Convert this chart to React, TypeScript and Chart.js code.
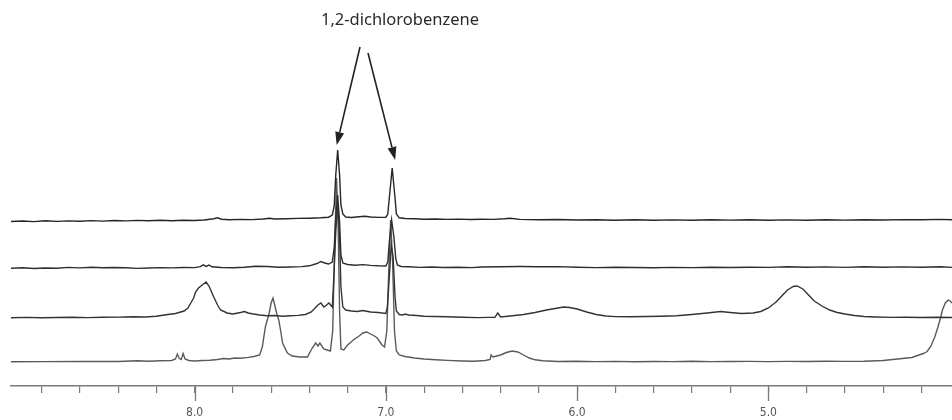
import React, { useEffect, useRef } from "react";
import { Chart, registerables } from "chart.js";

Chart.register(...registerables);

// ---- data (ppm, intensity above each trace's own baseline) ----
const TITLE = "1,2-dichlorobenzene";
const TICK_VALUES = [8.8, 8.6, 8.4, 8.2, 8.0, 7.8, 7.6, 7.4, 7.2, 7.0, 6.8, 6.6, 6.4, 6.2, 6.0, 5.8, 5.6, 5.4, 5.2, 5.0, 4.8, 4.6, 4.4, 4.2];
const MAJOR_TICKS = [8.0, 7.0, 6.0, 5.0];
const PPM_RANGE = [4.04, 8.96];
const ARROW_PEAKS = [7.252, 6.967];
const TRACE_BASELINES = [166, 119, 69, 25];

const TRACE_1: [number, number][] = [
  [8.96, -1.5], [8.9, -1], [8.84, -1.6], [8.78, -0.8], [8.72, -1.4], [8.66, -0.9], [8.6, -1.3], [8.54, -0.6],
  [8.48, -1.1], [8.42, -0.5], [8.36, -0.9], [8.3, -0.4], [8.24, -0.8], [8.18, -0.3], [8.12, -0.7], [8.06, -0.2],
  [8.0, -0.5], [7.95, 0], [7.9, 1.2], [7.88, 2.2], [7.86, 0.8], [7.82, 0.3], [7.76, 0.6], [7.7, 0.4],
  [7.64, 1.0], [7.61, 1.8], [7.58, 1.0], [7.52, 1.3], [7.46, 1.6], [7.4, 1.8], [7.34, 2.2], [7.3, 2.8],
  [7.28, 5], [7.27, 14], [7.262, 45], [7.252, 70], [7.242, 45], [7.235, 15], [7.225, 6], [7.21, 3],
  [7.18, 2.5], [7.14, 3.2], [7.11, 3.8], [7.08, 3.0], [7.04, 2.6], [7.0, 2.8], [6.99, 6], [6.982, 22],
  [6.967, 52], [6.952, 22], [6.945, 6], [6.93, 2.2], [6.9, 1.5], [6.85, 1.2], [6.8, 0.8], [6.74, 1],
  [6.68, 0.6], [6.62, 0.9], [6.56, 0.5], [6.5, 0.8], [6.44, 0.6], [6.38, 1.3], [6.35, 1.8], [6.3, 0.6],
  [6.2, 0.2], [6.1, 0.5], [6.0, 0], [5.9, 0.3], [5.8, -0.2], [5.7, 0.2], [5.6, -0.3], [5.5, 0.1],
  [5.4, -0.2], [5.3, 0.3], [5.2, -0.1], [5.1, 0.2], [5.0, -0.2], [4.9, 0.1], [4.8, -0.2], [4.7, 0.2],
  [4.6, -0.1], [4.5, 0.3], [4.4, 0], [4.3, 0.4], [4.2, 0.2], [4.1, 0.6], [4.04, 0.3],
];

const TRACE_2: [number, number][] = [
  [8.96, -1.3], [8.9, -0.8], [8.84, -1.5], [8.78, -1], [8.72, -1.2], [8.66, -0.4], [8.6, -0.9], [8.54, -0.3],
  [8.48, -0.8], [8.42, -0.5], [8.36, -0.7], [8.3, -1.4], [8.24, -1.0], [8.18, -0.6], [8.12, -0.9], [8.06, -0.5],
  [8.0, -0.6], [7.97, 0.3], [7.955, 2.2], [7.94, 0.6], [7.925, 2.0], [7.91, 0.2], [7.86, -0.5], [7.8, -0.8],
  [7.74, -0.2], [7.68, 0.8], [7.62, 0.5], [7.56, -0.2], [7.5, 0], [7.44, 0.4], [7.4, 1.2], [7.36, 3.5],
  [7.34, 5.5], [7.32, 4], [7.3, 3], [7.28, 5], [7.27, 20], [7.262, 50], [7.252, 72], [7.242, 45],
  [7.235, 12], [7.225, 4], [7.2, 2.5], [7.16, 1.8], [7.12, 2.4], [7.08, 1.6], [7.04, 1.2], [7.0, 1.0],
  [6.99, 5], [6.982, 25], [6.97, 47], [6.958, 30], [6.948, 8], [6.94, 2], [6.92, 0.5], [6.88, 0.2],
  [6.82, -0.4], [6.76, 0], [6.7, -0.5], [6.62, -0.2], [6.55, -0.6], [6.5, 0], [6.4, 0.3], [6.3, 0.5],
  [6.2, 0.3], [6.1, 0.4], [6.0, -0.2], [5.9, -0.6], [5.8, -0.3], [5.7, -0.5], [5.6, -0.8], [5.5, -0.4],
  [5.4, -0.6], [5.3, -0.3], [5.2, -0.5], [5.1, -0.2], [5.0, -0.4], [4.9, 0.2], [4.8, -0.3], [4.7, 0.1],
  [4.6, -0.4], [4.5, 0.2], [4.4, -0.2], [4.3, 0.1], [4.2, -0.3], [4.1, 0.2], [4.04, -0.4],
];

const TRACE_3: [number, number][] = [
  [8.96, -0.7], [8.88, -0.4], [8.8, -0.8], [8.72, -0.5], [8.64, -0.3], [8.56, -0.6], [8.48, -0.2], [8.4, -0.1],
  [8.32, 0.2], [8.26, 0], [8.2, 0.8], [8.14, 2.5], [8.1, 3.5], [8.055, 6], [8.035, 9], [8.02, 14],
  [8.005, 19], [7.995, 25], [7.98, 29], [7.96, 32], [7.94, 35], [7.925, 31], [7.9, 20], [7.88, 12],
  [7.864, 7], [7.83, 4], [7.8, 3], [7.76, 4.5], [7.74, 5.5], [7.72, 4], [7.7, 3.2], [7.66, 2],
  [7.62, 1.2], [7.58, 1.5], [7.54, 0.8], [7.5, 1.2], [7.46, 1.6], [7.42, 2.5], [7.39, 5], [7.37, 9],
  [7.355, 12], [7.34, 14], [7.324, 10], [7.31, 12], [7.298, 14], [7.28, 10], [7.272, 40], [7.262, 85],
  [7.252, 114], [7.242, 80], [7.235, 30], [7.225, 10], [7.21, 7], [7.18, 6], [7.15, 5.5], [7.12, 6.5],
  [7.08, 5], [7.04, 4.5], [7.0, 3.5], [6.992, 10], [6.982, 40], [6.972, 72], [6.962, 60], [6.952, 20],
  [6.945, 6], [6.93, 2.5], [6.91, 2], [6.9, 3], [6.88, 2], [6.84, 1.5], [6.8, 0.8], [6.74, 0.5],
  [6.68, 0.2], [6.6, -0.3], [6.52, -0.6], [6.46, -0.4], [6.43, -0.3], [6.415, 4], [6.4, 0], [6.35, 1],
  [6.28, 2.5], [6.22, 4.5], [6.16, 7], [6.1, 9], [6.07, 10], [6.04, 9.5], [6.0, 8], [5.95, 5],
  [5.9, 2.5], [5.85, 1], [5.8, 0.4], [5.72, 0.3], [5.64, 0.5], [5.56, 0.8], [5.48, 1.2], [5.4, 2.5],
  [5.32, 4], [5.25, 5.5], [5.2, 4.5], [5.14, 3.5], [5.08, 4], [5.04, 5.5], [5.0, 9], [4.96, 15],
  [4.93, 21], [4.9, 27], [4.87, 30.5], [4.85, 31], [4.82, 28], [4.79, 22], [4.76, 16], [4.72, 11],
  [4.68, 7], [4.64, 4.5], [4.6, 3], [4.55, 1.5], [4.5, 0.5], [4.44, 0], [4.36, -0.4], [4.28, -0.2],
  [4.2, -0.5], [4.12, -0.3], [4.04, -0.5],
];

const TRACE_4: [number, number][] = [
  [8.96, -0.7], [8.8, -0.6], [8.6, -0.5], [8.4, -0.5], [8.3, 0.3], [8.24, -0.2], [8.18, 0.2], [8.12, 0.5],
  [8.1, 2], [8.09, 7], [8.08, 2.5], [8.07, 1.5], [8.06, 7.5], [8.05, 2], [8.03, 0.5], [8.0, 0],
  [7.96, 0.5], [7.92, 0.8], [7.88, 1.5], [7.85, 2.5], [7.82, 2], [7.79, 3], [7.76, 2.8], [7.72, 3.6],
  [7.69, 4.5], [7.66, 6], [7.646, 14], [7.63, 34], [7.61, 48], [7.6, 58], [7.59, 63], [7.58, 55],
  [7.57, 47], [7.56, 41], [7.55, 30], [7.54, 18], [7.515, 8], [7.49, 5], [7.45, 4], [7.41, 4],
  [7.385, 13], [7.367, 18], [7.355, 15], [7.345, 18], [7.325, 12], [7.306, 11], [7.29, 10], [7.278, 30],
  [7.268, 110], [7.258, 183], [7.25, 140], [7.242, 50], [7.235, 12], [7.22, 11], [7.2, 16], [7.17, 21],
  [7.14, 25], [7.12, 28], [7.1, 29], [7.08, 27], [7.06, 25], [7.045, 23], [7.02, 16], [7.007, 14],
  [6.995, 30], [6.985, 90], [6.975, 141], [6.965, 100], [6.955, 30], [6.945, 10], [6.93, 6], [6.9, 4.5],
  [6.85, 3], [6.8, 2], [6.74, 1.2], [6.68, 0.6], [6.6, 0], [6.54, -0.3], [6.48, 0.5], [6.455, 1.5],
  [6.45, 6], [6.44, 4], [6.43, 4.5], [6.4, 6], [6.37, 8.5], [6.34, 10], [6.31, 9], [6.28, 6],
  [6.25, 3], [6.22, 1.2], [6.18, 0.2], [6.1, -0.5], [6.0, -0.3], [5.9, -0.6], [5.8, -0.4], [5.7, -0.7],
  [5.6, -0.5], [5.5, -0.6], [5.4, -0.3], [5.3, -0.6], [5.2, -0.5], [5.1, -0.4], [5.0, -0.6], [4.9, -0.4],
  [4.8, -0.5], [4.7, -0.3], [4.6, -0.4], [4.5, -0.2], [4.4, 0.5], [4.35, 1.5], [4.3, 2.5], [4.25, 3.5],
  [4.22, 5.5], [4.19, 7.5], [4.17, 9.5], [4.15, 15], [4.13, 24], [4.115, 33], [4.1, 43], [4.09, 51],
  [4.075, 58], [4.06, 61], [4.05, 60], [4.04, 58],
];

const TRACES = [TRACE_1, TRACE_2, TRACE_3, TRACE_4];
const TRACE_COLORS = ["#262626", "#2e2e2e", "#333333", "#5a5a5a"];

const AXIS_COLOR = "#7a7a7a";

const overlayPlugin = {
  id: "overlay",
  afterDraw(chart: any) {
    const ctx = chart.ctx as CanvasRenderingContext2D;
    const xs = chart.scales.x;
    const ys = chart.scales.y;
    ctx.save();
    // major ticks (longer)
    ctx.strokeStyle = AXIS_COLOR;
    ctx.lineWidth = 1.3;
    const axisY = xs.top;
    MAJOR_TICKS.forEach((v) => {
      const px = Math.round(xs.getPixelForValue(v)) + 0.5;
      ctx.beginPath();
      ctx.moveTo(px, axisY);
      ctx.lineTo(px, axisY + 15);
      ctx.stroke();
    });
    // title
    ctx.fillStyle = "#2a2a2a";
    ctx.font = '16.5px "Noto Sans", "Open Sans", sans-serif';
    ctx.textAlign = "center";
    ctx.textBaseline = "alphabetic";
    ctx.fillText(TITLE, 400, 25);
    // arrows
    const tails = [
      [360, 47],
      [368, 53],
    ];
    const tips = [
      [xs.getPixelForValue(ARROW_PEAKS[0]) - 1, ys.getPixelForValue(TRACE_BASELINES[0] + 70) - 5],
      [xs.getPixelForValue(ARROW_PEAKS[1]) + 3, ys.getPixelForValue(TRACE_BASELINES[0] + 52) - 8],
    ];
    ctx.strokeStyle = "#222";
    ctx.fillStyle = "#222";
    ctx.lineWidth = 1.6;
    for (let i = 0; i < 2; i++) {
      const [x0, y0] = tails[i];
      const [x1, y1] = tips[i];
      const ang = Math.atan2(y1 - y0, x1 - x0);
      const headLen = 13;
      const headW = 4.5;
      const bx = x1 - headLen * Math.cos(ang);
      const by = y1 - headLen * Math.sin(ang);
      ctx.beginPath();
      ctx.moveTo(x0, y0);
      ctx.lineTo(bx, by);
      ctx.stroke();
      ctx.beginPath();
      ctx.moveTo(x1, y1);
      ctx.lineTo(bx + headW * Math.sin(ang), by - headW * Math.cos(ang));
      ctx.lineTo(bx - headW * Math.sin(ang), by + headW * Math.cos(ang));
      ctx.closePath();
      ctx.fill();
    }
    ctx.restore();
  },
};

export default function App() {
  const ref = useRef<HTMLCanvasElement | null>(null);
  useEffect(() => {
    document.body.style.margin = "0";
    const canvas = ref.current;
    if (!canvas) return;
    const datasets = TRACES.map((tr, i) => ({
      label: `trace ${i + 1}`,
      data: tr.map(([x, y]) => ({ x, y: y + TRACE_BASELINES[i] })),
      borderColor: TRACE_COLORS[i],
      borderWidth: 1.4,
      pointRadius: 0,
      tension: 0,
      fill: false,
    }));
    const chart = new Chart(canvas, {
      type: "line",
      data: { datasets },
      options: {
        animation: false,
        responsive: false,
        maintainAspectRatio: false,
        layout: { padding: { left: 11, right: 0, top: 0, bottom: 0 } },
        plugins: { legend: { display: false }, tooltip: { enabled: false }, title: { display: false } },
        scales: {
          x: {
            type: "linear",
            reverse: true,
            min: PPM_RANGE[0],
            max: PPM_RANGE[1],
            afterBuildTicks: (axis: any) => {
              axis.ticks = TICK_VALUES.map((v) => ({ value: v }));
            },
            afterFit: (axis: any) => {
              axis.height = 34;
            },
            grid: {
              display: true,
              drawOnChartArea: false,
              drawTicks: true,
              tickLength: 7,
              color: AXIS_COLOR,
              lineWidth: 1.2,
            },
            border: { display: true, color: AXIS_COLOR, width: 1.5 },
            ticks: {
              autoSkip: false,
              maxRotation: 0,
              padding: 13,
              color: "#555",
              font: { family: '"DejaVu Sans Condensed", "DejaVu Sans", sans-serif', size: 12 },
              callback: (v: any) => {
                const n = Number(v);
                return MAJOR_TICKS.some((m) => Math.abs(m - n) < 1e-6) ? n.toFixed(1) : "";
              },
            },
          },
          y: { display: false, min: 0, max: 386 },
        },
      },
      plugins: [overlayPlugin],
    });
    return () => chart.destroy();
  }, []);
  return (
    <div style={{ width: 952, height: 420 }}>
      <canvas ref={ref} width={952} height={420} style={{ display: "block" }} />
    </div>
  );
}
